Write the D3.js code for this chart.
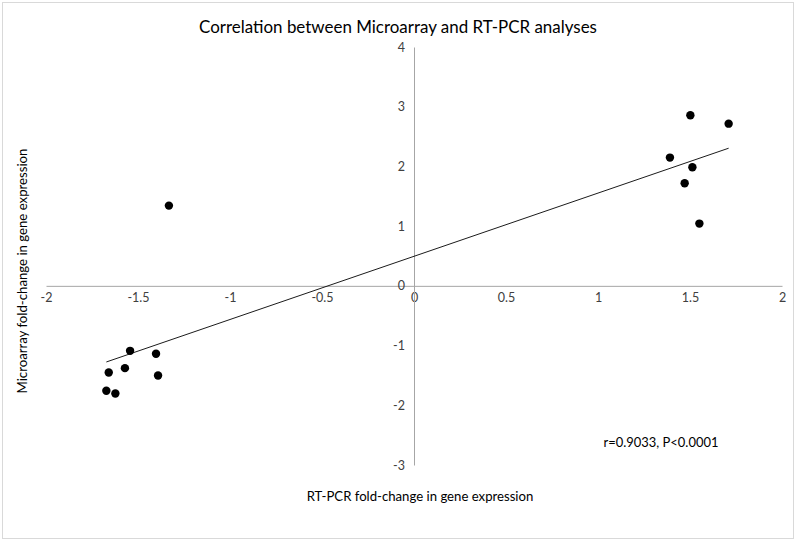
<!DOCTYPE html>
<html><head><meta charset="utf-8">
<script src="https://cdn.jsdelivr.net/npm/d3@7"></script>
<style>html,body{margin:0;padding:0;background:#fff;}svg{display:block;}</style>
</head><body>
<svg id="chart" width="796" height="541"></svg>
<script>
const rtpcr = [-1.543,-1.402,-1.659,-1.571,-1.391,-1.672,-1.623,-1.332,1.502,1.710,1.391,1.513,1.471,1.551];
const microarray = [-1.088,-1.138,-1.451,-1.378,-1.501,-1.757,-1.802,1.344,2.857,2.716,2.148,1.986,1.718,1.043];
const xTicks = [-2,-1.5,-1,-0.5,0,0.5,1,1.5,2];
const yTicks = [-3,-2,-1,0,1,2,3,4];
const titleText = "Correlation between Microarray and RT-PCR analyses";
const xTitle = "RT-PCR fold-change in gene expression";
const yTitle = "Microarray fold-change in gene expression";
const statText = "r=0.9033, P<0.0001";

const font = "Lato, 'Open Sans', sans-serif";
const svg = d3.select("#chart");
svg.append("rect").attr("x",2.5).attr("y",2.5).attr("width",791).attr("height",536)
  .attr("fill","#fff").attr("stroke","#d9d9d9");

const x = d3.scaleLinear().domain([-2,2]).range([46,782]);
const y = d3.scaleLinear().domain([-3,4]).range([465,47]);

function fitText(sel, target){
  const n = sel.node(); let fs = parseFloat(sel.attr("font-size"));
  const w = n.getComputedTextLength(); sel.attr("font-size", fs*target/w);
}

const xAxis = d3.axisBottom(x).tickValues(xTicks).tickSize(0).tickPadding(7)
  .tickFormat(d=>String(d));
const gx = svg.append("g").attr("transform",`translate(0,${y(0)})`).call(xAxis);
gx.select(".domain").attr("stroke","#a6a6a6").attr("stroke-width",1);
gx.selectAll("text").attr("font-family",font).attr("font-size",12.5).attr("fill","#404040");

const yAxis = d3.axisLeft(y).tickValues(yTicks).tickSize(0).tickPadding(9)
  .tickFormat(d=>String(d));
const gy = svg.append("g").attr("transform",`translate(${x(0)},0)`).call(yAxis);
gy.select(".domain").attr("stroke","#a6a6a6").attr("stroke-width",1);
gy.selectAll("text").attr("font-family",font).attr("font-size",12.5).attr("fill","#404040");

const mx = d3.mean(rtpcr), my = d3.mean(microarray);
let sxy=0, sxx=0;
rtpcr.forEach((v,i)=>{ sxy+=(v-mx)*(microarray[i]-my); sxx+=(v-mx)*(v-mx); });
const slope = sxy/sxx, intercept = my - slope*mx;
const [x0,x1] = d3.extent(rtpcr);
svg.append("line").attr("x1",x(x0)).attr("y1",y(intercept+slope*x0))
  .attr("x2",x(x1)).attr("y2",y(intercept+slope*x1))
  .attr("stroke","#000").attr("stroke-width",0.9);

svg.append("g").selectAll("circle").data(rtpcr).join("circle")
  .attr("cx",d=>x(d)).attr("cy",(d,i)=>y(microarray[i])).attr("r",4.2).attr("fill","#000");

const t = svg.append("text").attr("x",398).attr("y",33).attr("text-anchor","middle")
  .attr("font-family",font).attr("font-size",18).attr("fill","#000").text(titleText);
fitText(t,398);
const xt = svg.append("text").attr("x",420).attr("y",501).attr("text-anchor","middle")
  .attr("font-family",font).attr("font-size",13).attr("fill","#000").text(xTitle);
fitText(xt,227);
const yt = svg.append("text").attr("transform","translate(27,271) rotate(-90)").attr("text-anchor","middle")
  .attr("font-family",font).attr("font-size",13).attr("fill","#000").text(yTitle);
fitText(yt,245);
const st = svg.append("text").attr("x",661).attr("y",447).attr("text-anchor","middle")
  .attr("font-family",font).attr("font-size",12).attr("fill","#000").text(statText);
fitText(st,115);
</script>
</body></html>
